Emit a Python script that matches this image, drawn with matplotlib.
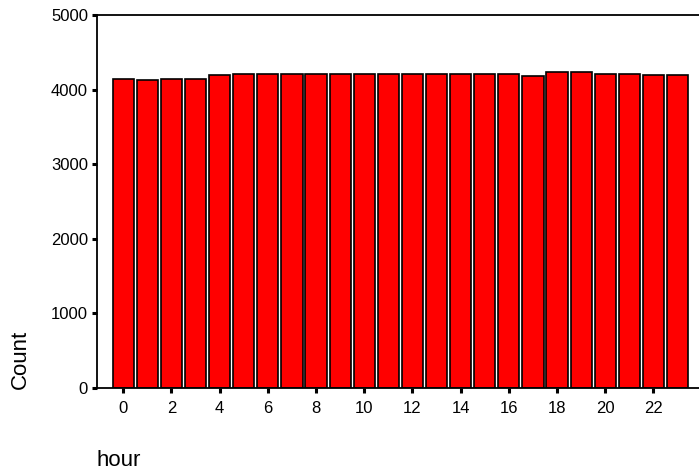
import numpy as np
import matplotlib
matplotlib.use("Agg")
import matplotlib.pyplot as plt

plt.rcParams["font.family"] = ["Liberation Sans", "DejaVu Sans"]

hours = list(range(24))
counts = [4147, 4124, 4147, 4147, 4191, 4209, 4209, 4209, 4209, 4209, 4209, 4209,
          4209, 4209, 4209, 4209, 4209, 4187, 4232, 4232, 4209, 4209, 4191, 4191]
x_ticks = list(range(0, 24, 2))
y_ticks = [0, 1000, 2000, 3000, 4000, 5000]

fig = plt.figure(figsize=(6.99, 4.75), dpi=100)
ax = fig.add_axes([97 / 699, 1 - 388 / 475, 1 - 97 / 699, (388 - 15) / 475])

ax.bar(hours, counts, width=0.88, color="#ff0000", edgecolor="black", linewidth=1.2)

ax.set_xlim(-1.09, 23.89)
ax.set_ylim(0, 5000)
ax.set_xticks(x_ticks)
ax.set_yticks(y_ticks)

ax.spines["right"].set_visible(False)
for s in ["left", "bottom", "top"]:
    ax.spines[s].set_linewidth(1.3)

ax.tick_params(axis="both", direction="out", length=3.5, width=2.2, labelsize=12)
ax.tick_params(axis="x", pad=6)
ax.tick_params(axis="y", pad=3)

fig.text(20 / 699, 1 - 359 / 475, "Count", rotation=90, ha="center", va="center", fontsize=16)
fig.text(119 / 699, 1 - 460 / 475, "hour", ha="center", va="center", fontsize=16)

fig.savefig("out.png", dpi=100)
